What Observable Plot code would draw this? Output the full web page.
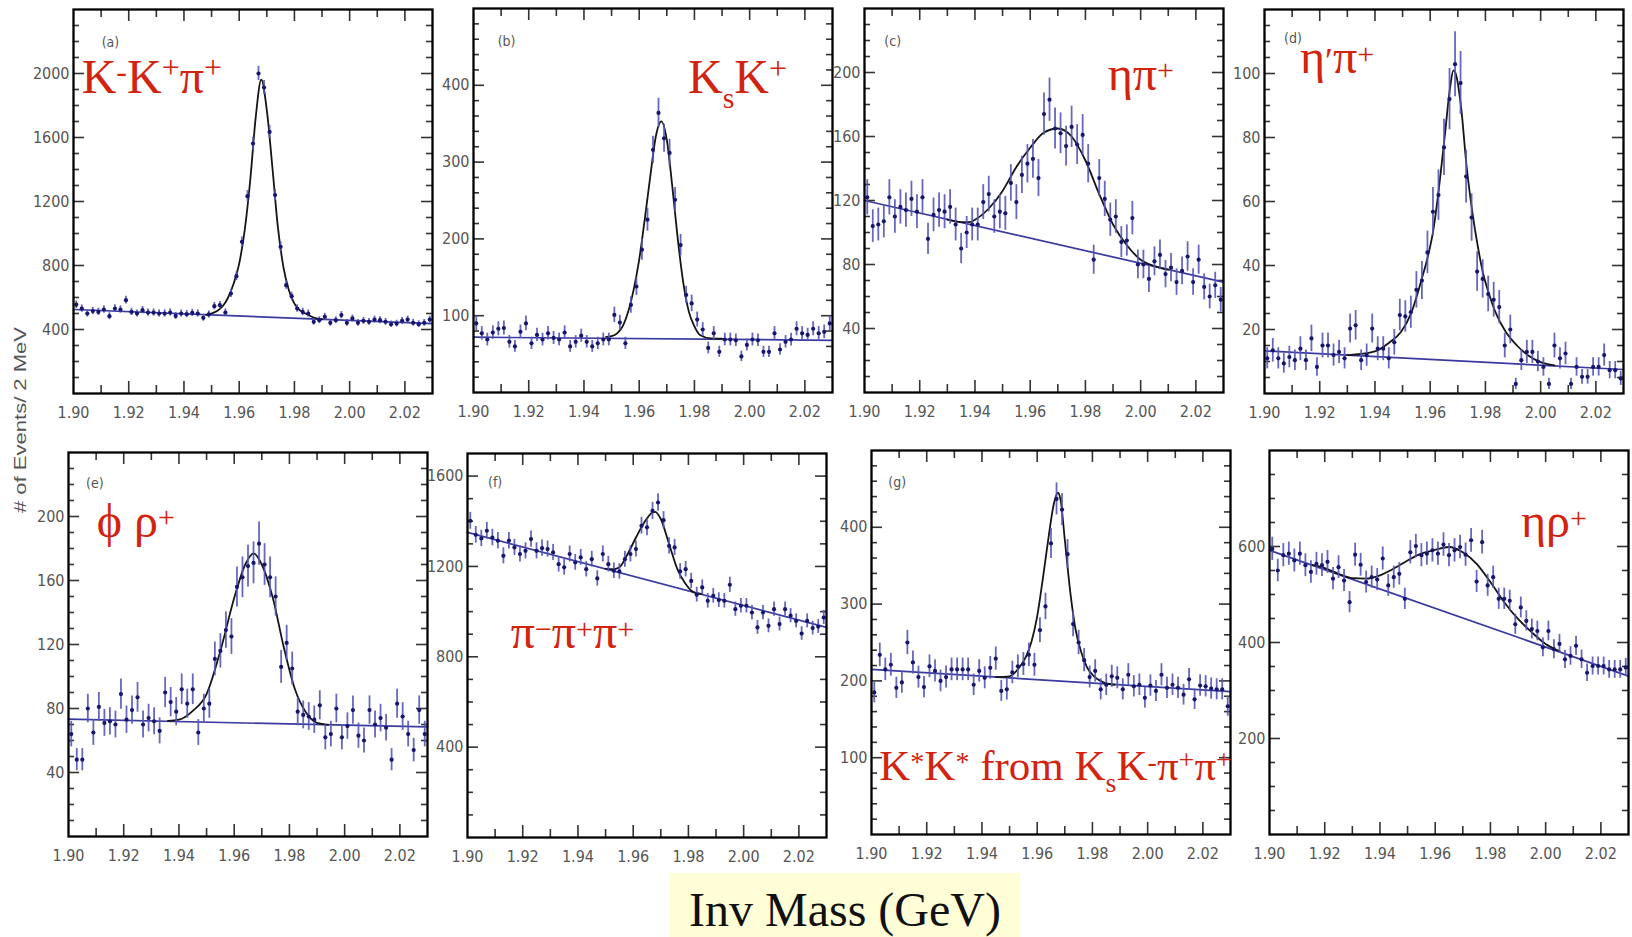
<!DOCTYPE html>
<html>
<head>
<meta charset="utf-8">
<script src="https://cdn.jsdelivr.net/npm/d3@7"></script>
<script src="https://cdn.jsdelivr.net/npm/@observablehq/plot@0.6"></script>
<style>
  body { margin: 0; background: #fff; }
  #page { position: relative; width: 1632px; height: 937px; overflow: hidden; background: #fff; }
  #overlay { position: absolute; left: 0; top: 0; pointer-events: none; }
</style>
</head>
<body>
<div id="page"></div>
<script>
// ---- Data: D_s+ candidate invariant-mass spectra, events per 2 MeV bin ----
// Bin centres 1.901 ... 2.029 GeV (65 bins of 2 MeV)
const binCenters = d3.range(65).map(i => +(1.901 + 0.002 * i).toFixed(3));

const countsKKpi = [555,531,500,515,510,525,483,531,525,583,510,500,521,506,506,500,500,506,485,500,496,504,500,473,494,546,552,506,625,733,948,1233,1562,2000,1912,1635,1240,917,677,608,531,510,500,448,458,479,442,458,490,442,469,442,454,448,462,458,448,433,437,454,462,442,433,442,462];
const countsKsK = [90,77,69,78,83,84,66,60,79,90,64,75,69,77,71,69,78,60,66,74,66,60,64,69,69,101,91,64,114,138,186,225,316,364,331,312,251,192,127,116,95,82,58,77,53,69,69,68,47,62,69,68,53,53,77,56,66,69,83,77,75,83,77,79,90];
const countsEtaPi = [122,104,105,107,122,110,116,114,121,113,122,96,111,114,113,116,105,90,100,105,105,119,124,110,113,112,131,119,136,143,146,134,174,183,165,162,154,166,155,161,143,83,134,121,108,110,94,95,109,80,80,71,82,86,74,78,69,76,85,69,83,66,60,67,58];
const countsEtapPi = [11,13.5,11,9.4,11.4,10.4,14,10.4,17.2,8.3,15,15,12,13,11,20.3,21.3,10.4,12,20.3,14,14,11,16,24.5,24.1,25.4,32.4,35.3,44.1,56.8,62,76.9,92,102.9,97,67.8,55,38.1,35.8,31.1,29.3,27,15,20,3,10.4,13,13,10,8.3,3,15,11,12.5,3,8.3,5.2,5.2,8.3,8.3,12,7.3,7.3,4.7];
const countsPhiRho = [64,48,48,80,65,81,71,72,70,89,73,79,87,70,74,72,66,90,84,78,92,83,92,65,80,83,111,116,129,125,156,162,169,171,183,170,162,150,106,121,105,78,76,75,73,82,62,64,80,62,69,79,63,60,79,70,74,68,48,83,75,64,54,79,64];
const counts3Pi = [1402,1340,1324,1358,1328,1314,1247,1314,1284,1255,1269,1321,1269,1281,1277,1262,1210,1196,1255,1218,1240,1188,1232,1147,1255,1210,1181,1178,1232,1255,1277,1380,1373,1446,1483,1405,1291,1284,1178,1188,1136,1075,1107,1048,1070,1051,1048,1119,1011,1026,1026,996,930,996,937,1011,945,1011,982,959,903,959,927,934,974];
const countsKstKst = [185,234,215,221,191,198,250,224,205,192,219,213,200,205,215,215,215,215,195,213,204,217,229,187,189,211,219,222,234,221,266,297,379,437,423,365,274,250,227,205,213,189,195,206,204,189,208,193,195,178,194,187,208,191,195,191,182,202,176,194,193,190,189,189,167];
const countsEtaRho = [595,550,582,585,571,585,561,547,564,561,568,533,557,529,484,583,562,526,536,531,575,519,536,543,491,588,601,582,585,592,585,604,582,592,599,583,613,527,609,519,536,491,491,487,438,473,445,428,424,390,424,386,397,365,372,393,365,337,351,351,351,344,344,344,348];

// Linear background of each fit, at the two ends of the mass window
const bkgMass = [1.90, 2.03];
const bkgKKpi = [525, 437];
const bkgKsK = [72, 68];
const bkgEtaPi = [120, 69];
const bkgEtapPi = [13.3, 7.5];
const bkgPhiRho = [73.3, 68.5];
const bkg3Pi = [1351, 930];
const bkgKstKst = [215, 186];
const bkgEtaRho = [592, 330];

// Signal + background fit curves, sampled across the peak region
const fitMassKKpi = [1.948,1.950,1.952,1.954,1.956,1.958,1.960,1.962,1.964,1.966,1.968,1.970,1.972,1.974,1.976,1.978,1.980,1.982,1.984,1.988,1.990];
const fitKKpi     = [492,500,515,545,600,687,812,1021,1333,1729,1962,1771,1417,1042,792,646,562,520,500,469,464];
const fitMassKsK = [1.948,1.950,1.952,1.954,1.956,1.958,1.960,1.962,1.964,1.966,1.968,1.970,1.972,1.974,1.976,1.978,1.980,1.982,1.986,1.990];
const fitKsK     = [72.5,73.5,77,86,105,134,173,225,281,333,353,329,268,199,142,105,86,75,70.5,70];
const fitMassEtaPi = [1.930,1.935,1.938,1.940,1.945,1.950,1.955,1.960,1.965,1.970,1.975,1.980,1.985,1.990,1.995,2.000,2.005,2.010];
const fitEtaPi     = [108,106.5,106.5,108,115,126,141,153,162.5,165,160,145,124,105,92,83,79,76.8];
const fitMassEtapPi = [1.930,1.940,1.945,1.9494,1.9530,1.9571,1.9591,1.9611,1.9632,1.9651,1.9672,1.9684,1.9691,1.9712,1.9731,1.9752,1.9773,1.9792,1.9813,1.9834,1.9874,1.9914,1.9955,2.000,2.005];
const fitEtapPi     = [12,13.2,15.8,19.2,24.9,36.3,42.6,50.9,64.4,79.0,95.6,101.0,100.3,89.4,71.7,57.1,45.7,37.4,31.1,25.9,19.2,15.0,11.9,9.8,8.8];
const fitMassPhiRho = [1.936,1.940,1.945,1.950,1.955,1.960,1.964,1.967,1.970,1.974,1.978,1.982,1.986,1.990,1.994];
const fitPhiRho     = [72.3,73,78.5,89,116,149,170,177,170,149,118,92,77.5,71,69.8];
const fitMass3Pi = [1.950,1.953,1.955,1.958,1.961,1.964,1.967,1.968,1.970,1.973,1.976,1.979,1.982,1.985];
const fit3Pi     = [1189,1188,1196,1255,1328,1395,1439,1442,1410,1299,1188,1122,1085,1078];
const fitMassKstKst = [1.945,1.950,1.953,1.956,1.958,1.960,1.962,1.964,1.966,1.9675,1.9685,1.970,1.972,1.974,1.976,1.978,1.980,1.984,1.988];
const fitKstKst     = [205,206,215,232,252,284,332,384,430,445,435,384,315,265,237,218,208,198,195];
const fitMassEtaRho = [1.915,1.920,1.925,1.930,1.935,1.940,1.945,1.950,1.955,1.960,1.965,1.970,1.975,1.980,1.985,1.990,1.995,2.000,2.005];
const fitEtaRho     = [562,555,543,534,533,540,554,571,585,593,599,588,564,526,484,449,421,397,382];

// Axis tick labels
const massTicks = [1.90, 1.92, 1.94, 1.96, 1.98, 2.00, 2.02];
const massMinorTicks = [1.91, 1.93, 1.95, 1.97, 1.99, 2.01];
const yTicksKKpi = [400, 800, 1200, 1600, 2000];
const yTicksKsK = [100, 200, 300, 400];
const yTicksEtaPi = [40, 80, 120, 160, 200];
const yTicksEtapPi = [20, 40, 60, 80, 100];
const yTicksPhiRho = [40, 80, 120, 160, 200];
const yTicks3Pi = [400, 800, 1200, 1600];
const yTicksKstKst = [100, 200, 300, 400];
const yTicksEtaRho = [200, 400, 600];

const panelLetters = ["(a)", "(b)", "(c)", "(d)", "(e)", "(f)", "(g)", ""];
const yTitle = "# of Events/ 2 MeV";
const xTitle = "Inv Mass (GeV)";

// ---- Layout and style ----
const FRAME_W = 359, FRAME_H = 384;
const M = {left: 50, right: 10, top: 10, bottom: 34};
const tickFont = '"Liberation Sans Narrow", "Arial Narrow", "DejaVu Sans Condensed", sans-serif';
const serif = '"Liberation Serif", "Times New Roman", serif';
const red = "#d2230f";

const panels = [
  {counts: countsKKpi, bkg: bkgKKpi, fm: fitMassKKpi, fv: fitKKpi, yMax: 2400, yTicks: yTicksKKpi, major: 400, minor: 100, left: 73, top: 9},
  {counts: countsKsK, bkg: bkgKsK, fm: fitMassKsK, fv: fitKsK, yMax: 500, yTicks: yTicksKsK, major: 100, minor: 20, left: 473, top: 8},
  {counts: countsEtaPi, bkg: bkgEtaPi, fm: fitMassEtaPi, fv: fitEtaPi, yMax: 240, yTicks: yTicksEtaPi, major: 40, minor: 10, left: 864, top: 7.5},
  {counts: countsEtapPi, bkg: bkgEtapPi, fm: fitMassEtapPi, fv: fitEtapPi, yMax: 120, yTicks: yTicksEtapPi, major: 20, minor: 5, left: 1264, top: 9},
  {counts: countsPhiRho, bkg: bkgPhiRho, fm: fitMassPhiRho, fv: fitPhiRho, yMax: 240, yTicks: yTicksPhiRho, major: 40, minor: 10, left: 68, top: 452},
  {counts: counts3Pi, bkg: bkg3Pi, fm: fitMass3Pi, fv: fit3Pi, yMax: 1700, yTicks: yTicks3Pi, major: 400, minor: 100, left: 467, top: 453},
  {counts: countsKstKst, bkg: bkgKstKst, fm: fitMassKstKst, fv: fitKstKst, yMax: 500, yTicks: yTicksKstKst, major: 100, minor: 20, left: 871, top: 450},
  {counts: countsEtaRho, bkg: bkgEtaRho, fm: fitMassEtaRho, fv: fitEtaRho, yMax: 800, yTicks: yTicksEtaRho, major: 200, minor: 50, left: 1269, top: 450}
];

const page = document.getElementById("page");

panels.forEach(p => {
  const data = binCenters.map((m, i) => ({m, n: p.counts[i]}));
  const fit = p.fm.map((m, i) => ({m, n: p.fv[i]}));
  const bkg = bkgMass.map((m, i) => ({m, n: p.bkg[i]}));
  const yMajor = d3.range(p.major, p.yMax, p.major);
  const yMinor = d3.range(p.minor, p.yMax, p.minor)
    .filter(v => Math.abs(v / p.major - Math.round(v / p.major)) > 1e-6);
  const tick = {stroke: "#333", strokeWidth: 1.6};

  const svg = Plot.plot({
    width: FRAME_W + M.left + M.right,
    height: FRAME_H + M.top + M.bottom,
    marginLeft: M.left, marginRight: M.right, marginTop: M.top, marginBottom: M.bottom,
    x: {domain: [1.90, 2.03]},
    y: {domain: [0, p.yMax]},
    style: {background: "transparent", color: "#555", fontFamily: tickFont, fontSize: "16px", overflow: "visible"},
    marks: [
      // inward ticks on all four sides
      Plot.ruleX(massTicks.slice(1), {x: d => d, ...tick, insetTop: FRAME_H - 12}),
      Plot.ruleX(massMinorTicks, {x: d => d, ...tick, insetTop: FRAME_H - 8}),
      Plot.ruleX(massTicks.slice(1), {x: d => d, ...tick, insetBottom: FRAME_H - 12}),
      Plot.ruleX(massMinorTicks, {x: d => d, ...tick, insetBottom: FRAME_H - 8}),
      Plot.ruleY(yMajor, {y: d => d, ...tick, insetRight: FRAME_W - 11}),
      Plot.ruleY(yMinor, {y: d => d, ...tick, insetRight: FRAME_W - 6}),
      Plot.ruleY(yMajor, {y: d => d, ...tick, insetLeft: FRAME_W - 11}),
      Plot.ruleY(yMinor, {y: d => d, ...tick, insetLeft: FRAME_W - 6}),
      Plot.axisX(massTicks, {tickSize: 0, tickPadding: 13, tickFormat: d3.format(".2f"), label: null}),
      Plot.axisY(p.yTicks, {tickSize: 0, tickPadding: 4, tickFormat: d3.format("d"), label: null}),
      // background and full fit
      Plot.line(bkg, {x: "m", y: "n", stroke: "#3a3aa0", strokeWidth: 1.7}),
      Plot.line(fit, {x: "m", y: "n", curve: "monotone-x", stroke: "#151515", strokeWidth: 1.8}),
      // data with Poisson (sqrt N) error bars
      Plot.ruleX(data, {x: "m", y1: d => d.n - Math.sqrt(d.n), y2: d => d.n + Math.sqrt(d.n), stroke: "#5656b8", strokeWidth: 1.8, strokeOpacity: 0.9, clip: true}),
      Plot.dot(data, {x: "m", y: "n", r: 2.1, fill: "#16166e", stroke: null, clip: true}),
      Plot.frame({stroke: "#000", strokeWidth: 2.3})
    ]
  });
  svg.style.position = "absolute";
  svg.style.left = (p.left - M.left) + "px";
  svg.style.top = (p.top - M.top) + "px";
  page.appendChild(svg);
});

// ---- Annotations: decay-mode labels, panel letters, axis titles ----
const overlay = d3.create("svg")
  .attr("id", "overlay")
  .attr("width", 1632).attr("height", 937);

// [text, raise in px, font size]
const modeLabels = [
  {x: 81.7, y: 93.3, segs: [["K",0,48],["-",11,32],["K",0,48],["+",15,32],["π",0,48],["+",15,32]]},
  {x: 688, y: 93.3, segs: [["K",0,48],["s",-15,30],["K",0,48],["+",14,32]]},
  {x: 1107.7, y: 90, segs: [["η",0,48],["π",0,48],["+",10,30]]},
  {x: 1300, y: 73.3, segs: [["η",0,48],["′",0,36],["π",0,48],["+",9,30]]},
  {x: 96.7, y: 536.7, segs: [["ϕ",0,48],[" ",0,48],["ρ",0,48],["+",10,30]]},
  {x: 510.7, y: 648.3, segs: [["π",0,48],["−",9,30],["π",0,48],["+",9,30],["π",0,48],["+",9,30]]},
  {x: 879.3, y: 780, segs: [["K",0,43],["*",9,28],["K",0,43],["*",9,28],[" from ",0,43],["K",0,43],["s",-12,28],["K",0,43],["-",9,28],["π",0,43],["+",11,28],["π",0,43],["+",11,28]]},
  {x: 1521, y: 537.3, segs: [["η",0,48],["ρ",0,48],["+",9,30]]}
];

modeLabels.forEach(l => {
  const t = overlay.append("text")
    .attr("x", l.x).attr("y", l.y)
    .attr("fill", red).attr("font-family", serif)
    .style("white-space", "pre");
  let prev = 0;
  l.segs.forEach(([str, shift, fs]) => {
    t.append("tspan").attr("dy", prev - shift).attr("font-size", fs).text(str);
    prev = shift;
  });
});

const letterPos = [[101.7, 47], [497.7, 45.5], [884.3, 45.5], [1284, 43], [86, 487.5], [488, 487], [888.3, 487], [0, 0]];
panelLetters.forEach((s, i) => {
  if (!s) return;
  overlay.append("text")
    .attr("x", letterPos[i][0]).attr("y", letterPos[i][1])
    .attr("fill", "#555").attr("font-family", tickFont).attr("font-size", 14)
    .text(s);
});

overlay.append("text")
  .attr("transform", "translate(26,420) rotate(-90)")
  .attr("text-anchor", "middle")
  .attr("fill", "#555").attr("font-family", '"Liberation Sans", Arial, sans-serif')
  .attr("font-size", 16)
  .attr("textLength", 186).attr("lengthAdjust", "spacingAndGlyphs")
  .text(yTitle);

overlay.append("rect")
  .attr("x", 669).attr("y", 873).attr("width", 351).attr("height", 70)
  .attr("fill", "#fffed6");
overlay.append("text")
  .attr("x", 689).attr("y", 926)
  .attr("fill", "#111").attr("font-family", serif).attr("font-size", 48)
  .text(xTitle);

page.appendChild(overlay.node());
</script>
</body>
</html>
